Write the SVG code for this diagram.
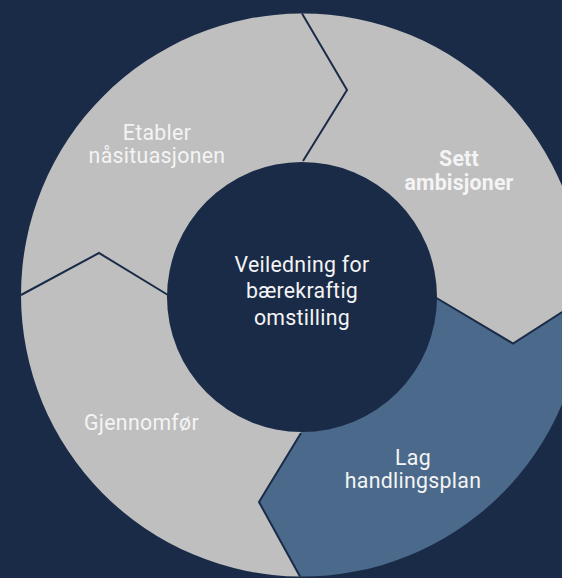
<svg xmlns="http://www.w3.org/2000/svg" width="562" height="578" viewBox="0 0 562 578">
<style>
.seg{fill:#bfbfbf;}
.segb{fill:#4b6a8b;}
.div{fill:none;stroke:#1a2b47;stroke-width:2;stroke-linejoin:miter;}
.t{font-family:Roboto,"Liberation Sans",sans-serif;font-size:21.3px;fill:#f4f4f4;text-anchor:middle;letter-spacing:0.3px;}
.b{font-weight:bold;letter-spacing:0.2px;}
</style>
<rect width="562" height="578" fill="#1a2b47"/>
<g id="etabler">
<path class="seg" d="M21,295 A281.5,281.5 0 0 1 302,13.5 L347,90 L303,161 L302,297 L168,295 L99,253 Z"/>
<text class="t" x="157" y="140">Etabler</text>
<text class="t" x="157" y="163">nåsituasjonen</text>
</g>
<g id="sett">
<path class="seg" d="M302,13.5 A281.5,281.5 0 0 1 584,298 L513,343.5 L436.5,298 L302,297 L303,161 L347,90 Z"/>
<text class="t b" x="459" y="166">Sett</text>
<text class="t b" x="459" y="190">ambisjoner</text>
</g>
<g id="lag">
<path class="segb" d="M584,298 A281.5,281.5 0 0 1 300,576.5 L259,502 L301,433 L302,297 L436.5,298 L513,343.5 Z"/>
<text class="t" x="413" y="465">Lag</text>
<text class="t" x="413" y="488">handlingsplan</text>
</g>
<g id="gjennomfor">
<path class="seg" d="M300,576.5 A281.5,281.5 0 0 1 21,295 L99,253 L168,295 L302,297 L301,433 L259,502 Z"/>
<text class="t" x="141.5" y="429.5">Gjennomfør</text>
</g>
<g id="dividers">
<polyline class="div" points="302,13.5 347,90 303,161"/>
<polyline class="div" points="436.5,298 513,343.5 584,298"/>
<polyline class="div" points="301,433 259,502 300,576.5"/>
<polyline class="div" points="21,295 99,253 168,295"/>
</g>
<g id="center">
<circle cx="302" cy="297" r="135" fill="#1a2b47"/>
<text class="t" x="302" y="272">Veiledning for</text>
<text class="t" x="302" y="298.3">bærekraftig</text>
<text class="t" x="302" y="324.5">omstilling</text>
</g>
</svg>
